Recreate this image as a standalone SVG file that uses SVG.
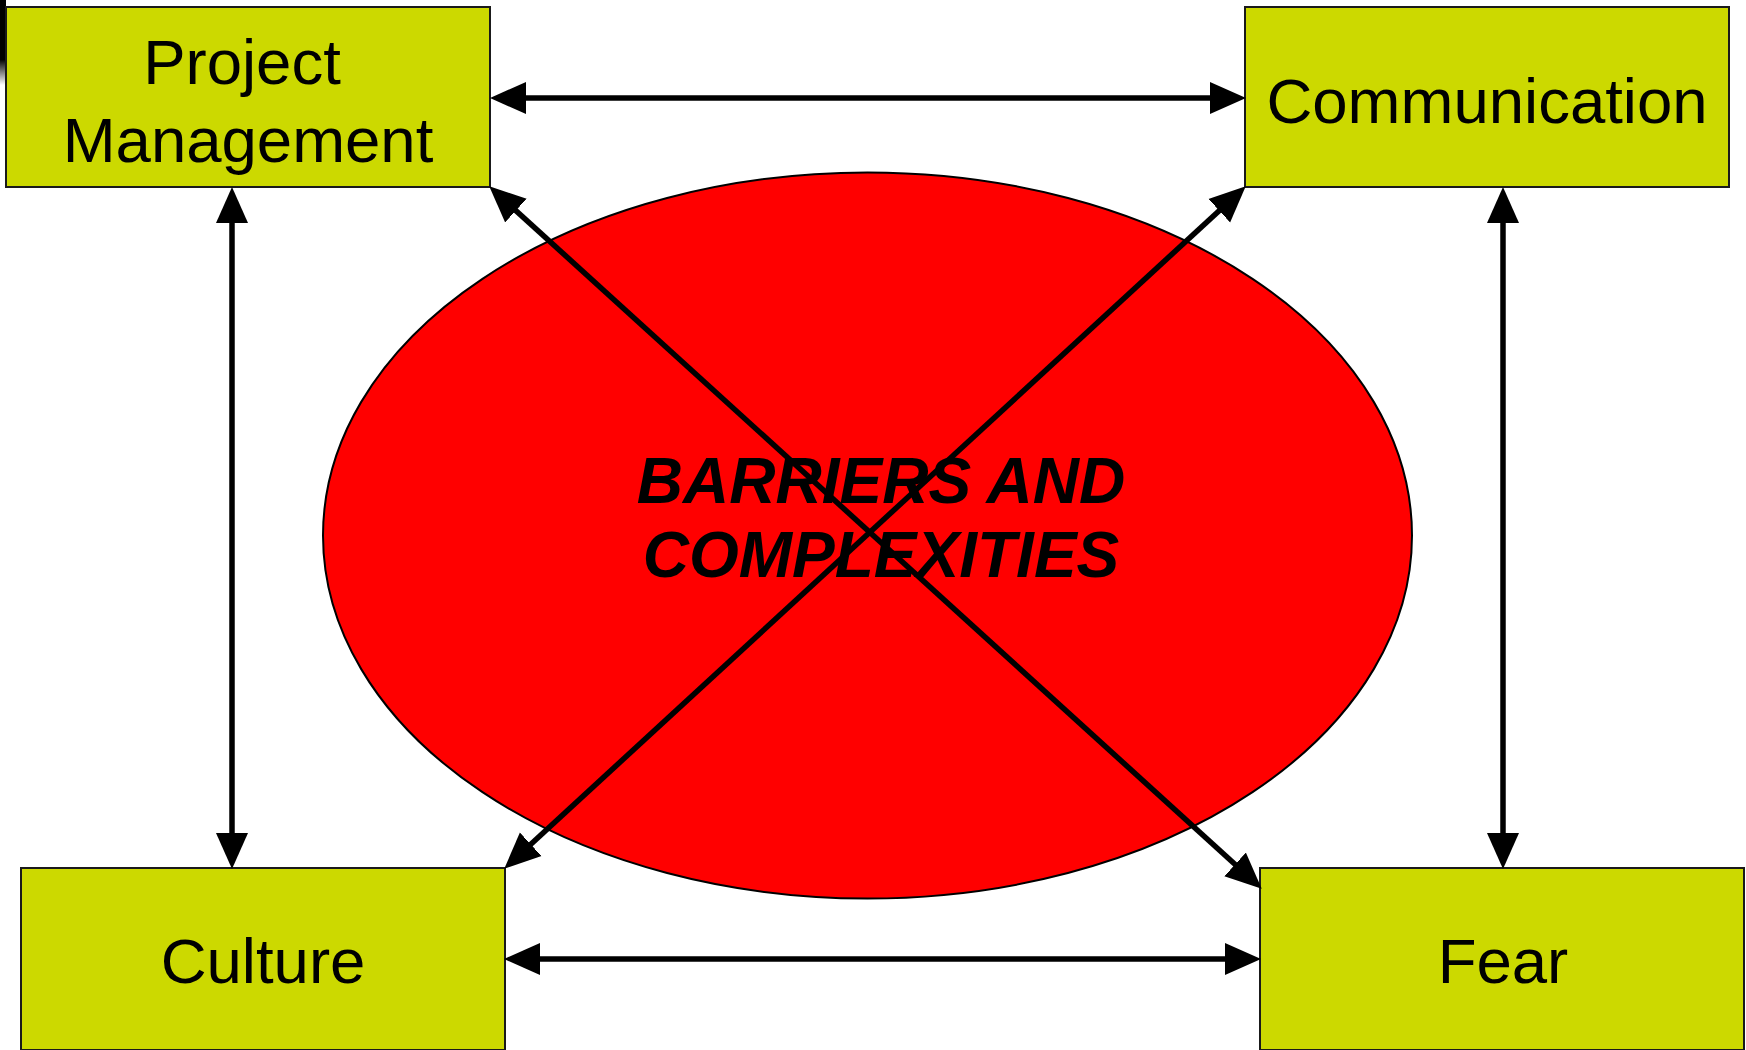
<svg xmlns="http://www.w3.org/2000/svg" width="1746" height="1050" viewBox="0 0 1746 1050">
<style>
.box{fill:#CCD900;stroke:#1a1a1a;stroke-width:2}
.lbl{font-family:"Liberation Sans",Arial,sans-serif;font-size:63.5px;fill:#000;text-anchor:middle}
.big{font-family:"Liberation Sans",Arial,sans-serif;font-size:64px;font-weight:bold;font-style:italic;fill:#000;text-anchor:middle}
.con{stroke:#000;stroke-width:5.5;fill:none;marker-start:url(#ah);marker-end:url(#ah)}
</style>
<defs>
<marker id="ah" markerUnits="userSpaceOnUse" markerWidth="37" markerHeight="34" viewBox="0 -17 37 34" refX="15" refY="0" orient="auto-start-reverse">
<path d="M0,-16 L36,0 L0,16 z" fill="#000"/>
</marker>
<linearGradient id="fade" x1="0" y1="0" x2="0" y2="1">
<stop offset="0" stop-color="#000"/>
<stop offset="0.7" stop-color="#000"/>
<stop offset="1" stop-color="#000" stop-opacity="0"/>
</linearGradient>
</defs>
<rect width="1746" height="1050" fill="#fff"/>
<rect x="0" y="0" width="6" height="85" fill="url(#fade)"/>
<g id="center">
<ellipse cx="867.5" cy="535.5" rx="544.5" ry="363" fill="#FF0000" stroke="#000" stroke-width="2"/>
<text class="big" x="881" y="503">BARRIERS AND</text>
<text class="big" x="881" y="577">COMPLEXITIES</text>
</g>
<g id="project-management">
<rect class="box" x="6" y="7" width="484" height="180"/>
<text class="lbl" x="242" y="83.5">Project</text>
<text class="lbl" x="248" y="161.5">Management</text>
</g>
<g id="communication">
<rect class="box" x="1245" y="7" width="484" height="180"/>
<text class="lbl" x="1487" y="122.5">Communication</text>
</g>
<g id="culture">
<rect class="box" x="21" y="868" width="484" height="182"/>
<text class="lbl" x="263" y="983">Culture</text>
</g>
<g id="fear">
<rect class="box" x="1260" y="868" width="484" height="182"/>
<text class="lbl" x="1503" y="983">Fear</text>
</g>
<g id="connectors">
<line class="con" x1="511" y1="98" x2="1225" y2="98"/>
<line class="con" x1="525" y1="959" x2="1240" y2="959"/>
<line class="con" x1="232" y1="208" x2="232" y2="848"/>
<line class="con" x1="1503" y1="208" x2="1503" y2="848"/>
<line class="con" x1="504.8" y1="200.5" x2="1246.2" y2="874.5"/>
<line class="con" x1="1230.3" y1="200.5" x2="519.7" y2="854.5"/>
</g>
</svg>
